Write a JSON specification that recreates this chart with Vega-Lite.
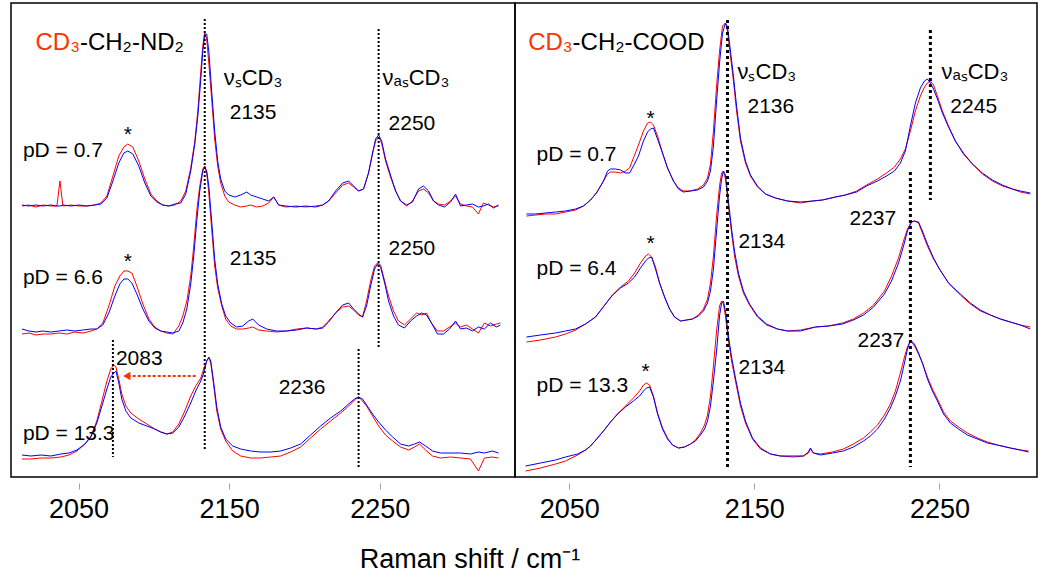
{
"$schema":"https://vega.github.io/schema/vega-lite/v6.json",
"padding":{"left":10,"top":2,"right":0,"bottom":0},
"autosize":{"type":"pad"},
"background":"white",
"spacing":0,
"bounds":"flush",
"config":{"font":"Liberation Sans","view":{"stroke":"black","strokeWidth":1.5}},
"title":{"text":"Raman shift / cm⁻¹","orient":"bottom","anchor":"middle","fontSize":27,"font":"Liberation Sans","fontWeight":"normal","color":"black","dx":-54,"offset":24},
"datasets":{
"spec":[
{"panel":"L","pd":"0.7","x":2012.4,"red":271,"blue":272},
{"panel":"L","pd":"0.7","x":2017.0,"red":272,"blue":271},
{"panel":"L","pd":"0.7","x":2021.7,"red":270,"blue":272},
{"panel":"L","pd":"0.7","x":2026.3,"red":272,"blue":271},
{"panel":"L","pd":"0.7","x":2031.6,"red":271,"blue":272},
{"panel":"L","pd":"0.7","x":2035.6,"red":271,"blue":271},
{"panel":"L","pd":"0.7","x":2037.6,"red":296,"blue":271},
{"panel":"L","pd":"0.7","x":2039.6,"red":271,"blue":272},
{"panel":"L","pd":"0.7","x":2044.9,"red":272,"blue":271},
{"panel":"L","pd":"0.7","x":2050.2,"red":271,"blue":272},
{"panel":"L","pd":"0.7","x":2055.5,"red":271,"blue":271},
{"panel":"L","pd":"0.7","x":2060.8,"red":272,"blue":272},
{"panel":"L","pd":"0.7","x":2064.8,"red":274,"blue":273},
{"panel":"L","pd":"0.7","x":2068.8,"red":281,"blue":279},
{"panel":"L","pd":"0.7","x":2072.8,"red":301,"blue":296},
{"panel":"L","pd":"0.7","x":2076.7,"red":321,"blue":314},
{"panel":"L","pd":"0.7","x":2080.1,"red":330,"blue":324},
{"panel":"L","pd":"0.7","x":2082.7,"red":333,"blue":326},
{"panel":"L","pd":"0.7","x":2086.0,"red":330,"blue":323},
{"panel":"L","pd":"0.7","x":2090.0,"red":316,"blue":311},
{"panel":"L","pd":"0.7","x":2094.0,"red":298,"blue":294},
{"panel":"L","pd":"0.7","x":2098.0,"red":283,"blue":281},
{"panel":"L","pd":"0.7","x":2102.0,"red":276,"blue":275},
{"panel":"L","pd":"0.7","x":2105.9,"red":272,"blue":272},
{"panel":"L","pd":"0.7","x":2109.9,"red":271,"blue":271},
{"panel":"L","pd":"0.7","x":2113.9,"red":272,"blue":273},
{"panel":"L","pd":"0.7","x":2117.9,"red":276,"blue":274},
{"panel":"L","pd":"0.7","x":2121.2,"red":286,"blue":283},
{"panel":"L","pd":"0.7","x":2124.5,"red":309,"blue":306},
{"panel":"L","pd":"0.7","x":2127.2,"red":336,"blue":333},
{"panel":"L","pd":"0.7","x":2129.2,"red":366,"blue":361},
{"panel":"L","pd":"0.7","x":2131.2,"red":406,"blue":398},
{"panel":"L","pd":"0.7","x":2132.5,"red":431,"blue":426},
{"panel":"L","pd":"0.7","x":2133.8,"red":444,"blue":442},
{"panel":"L","pd":"0.7","x":2135.1,"red":438,"blue":443},
{"panel":"L","pd":"0.7","x":2136.5,"red":414,"blue":426},
{"panel":"L","pd":"0.7","x":2138.5,"red":376,"blue":384},
{"panel":"L","pd":"0.7","x":2140.4,"red":338,"blue":346},
{"panel":"L","pd":"0.7","x":2142.4,"red":311,"blue":316},
{"panel":"L","pd":"0.7","x":2144.4,"red":294,"blue":298},
{"panel":"L","pd":"0.7","x":2147.1,"red":281,"blue":286},
{"panel":"L","pd":"0.7","x":2149.7,"red":275,"blue":282},
{"panel":"L","pd":"0.7","x":2153.7,"red":272,"blue":280},
{"panel":"L","pd":"0.7","x":2157.7,"red":270,"blue":282},
{"panel":"L","pd":"0.7","x":2161.7,"red":271,"blue":285},
{"panel":"L","pd":"0.7","x":2164.3,"red":272,"blue":282},
{"panel":"L","pd":"0.7","x":2168.3,"red":270,"blue":280},
{"panel":"L","pd":"0.7","x":2172.3,"red":271,"blue":278},
{"panel":"L","pd":"0.7","x":2176.3,"red":274,"blue":276},
{"panel":"L","pd":"0.7","x":2179.6,"red":280,"blue":280},
{"panel":"L","pd":"0.7","x":2182.9,"red":272,"blue":272},
{"panel":"L","pd":"0.7","x":2187.6,"red":270,"blue":271},
{"panel":"L","pd":"0.7","x":2194.2,"red":271,"blue":270},
{"panel":"L","pd":"0.7","x":2200.8,"red":270,"blue":271},
{"panel":"L","pd":"0.7","x":2207.5,"red":271,"blue":270},
{"panel":"L","pd":"0.7","x":2212.1,"red":272,"blue":272},
{"panel":"L","pd":"0.7","x":2216.1,"red":276,"blue":276},
{"panel":"L","pd":"0.7","x":2220.7,"red":284,"blue":286},
{"panel":"L","pd":"0.7","x":2225.4,"red":292,"blue":294},
{"panel":"L","pd":"0.7","x":2229.4,"red":294,"blue":296},
{"panel":"L","pd":"0.7","x":2232.7,"red":290,"blue":291},
{"panel":"L","pd":"0.7","x":2236.0,"red":286,"blue":286},
{"panel":"L","pd":"0.7","x":2239.3,"red":288,"blue":288},
{"panel":"L","pd":"0.7","x":2242.6,"red":304,"blue":304},
{"panel":"L","pd":"0.7","x":2245.3,"red":324,"blue":324},
{"panel":"L","pd":"0.7","x":2247.3,"red":336,"blue":338},
{"panel":"L","pd":"0.7","x":2249.3,"red":340,"blue":342},
{"panel":"L","pd":"0.7","x":2251.3,"red":334,"blue":336},
{"panel":"L","pd":"0.7","x":2253.9,"red":316,"blue":318},
{"panel":"L","pd":"0.7","x":2257.2,"red":300,"blue":302},
{"panel":"L","pd":"0.7","x":2260.6,"red":286,"blue":286},
{"panel":"L","pd":"0.7","x":2263.9,"red":276,"blue":276},
{"panel":"L","pd":"0.7","x":2267.9,"red":271,"blue":272},
{"panel":"L","pd":"0.7","x":2271.8,"red":276,"blue":275},
{"panel":"L","pd":"0.7","x":2275.8,"red":286,"blue":288},
{"panel":"L","pd":"0.7","x":2279.1,"red":288,"blue":291},
{"panel":"L","pd":"0.7","x":2282.5,"red":284,"blue":286},
{"panel":"L","pd":"0.7","x":2285.8,"red":276,"blue":276},
{"panel":"L","pd":"0.7","x":2289.1,"red":273,"blue":272},
{"panel":"L","pd":"0.7","x":2293.1,"red":272,"blue":270},
{"panel":"L","pd":"0.7","x":2297.1,"red":276,"blue":275},
{"panel":"L","pd":"0.7","x":2300.4,"red":281,"blue":283},
{"panel":"L","pd":"0.7","x":2303.7,"red":273,"blue":271},
{"panel":"L","pd":"0.7","x":2307.7,"red":271,"blue":272},
{"panel":"L","pd":"0.7","x":2311.6,"red":270,"blue":273},
{"panel":"L","pd":"0.7","x":2315.6,"red":263,"blue":270},
{"panel":"L","pd":"0.7","x":2318.9,"red":274,"blue":271},
{"panel":"L","pd":"0.7","x":2322.3,"red":272,"blue":273},
{"panel":"L","pd":"0.7","x":2325.6,"red":270,"blue":269},
{"panel":"L","pd":"0.7","x":2328.9,"red":271,"blue":272},
{"panel":"L","pd":"6.6","x":2012.4,"red":143,"blue":148},
{"panel":"L","pd":"6.6","x":2017.0,"red":144,"blue":146},
{"panel":"L","pd":"6.6","x":2021.7,"red":142,"blue":145},
{"panel":"L","pd":"6.6","x":2026.3,"red":143,"blue":146},
{"panel":"L","pd":"6.6","x":2031.6,"red":143,"blue":145},
{"panel":"L","pd":"6.6","x":2036.9,"red":144,"blue":146},
{"panel":"L","pd":"6.6","x":2042.2,"red":143,"blue":147},
{"panel":"L","pd":"6.6","x":2047.5,"red":145,"blue":146},
{"panel":"L","pd":"6.6","x":2052.9,"red":144,"blue":147},
{"panel":"L","pd":"6.6","x":2058.2,"red":146,"blue":148},
{"panel":"L","pd":"6.6","x":2062.1,"red":148,"blue":148},
{"panel":"L","pd":"6.6","x":2066.1,"red":154,"blue":152},
{"panel":"L","pd":"6.6","x":2070.1,"red":171,"blue":164},
{"panel":"L","pd":"6.6","x":2074.1,"red":191,"blue":181},
{"panel":"L","pd":"6.6","x":2077.4,"red":201,"blue":193},
{"panel":"L","pd":"6.6","x":2080.1,"red":206,"blue":198},
{"panel":"L","pd":"6.6","x":2082.7,"red":206,"blue":198},
{"panel":"L","pd":"6.6","x":2085.4,"red":204,"blue":194},
{"panel":"L","pd":"6.6","x":2088.7,"red":191,"blue":183},
{"panel":"L","pd":"6.6","x":2092.7,"red":173,"blue":168},
{"panel":"L","pd":"6.6","x":2096.7,"red":158,"blue":156},
{"panel":"L","pd":"6.6","x":2100.6,"red":150,"blue":149},
{"panel":"L","pd":"6.6","x":2104.6,"red":146,"blue":146},
{"panel":"L","pd":"6.6","x":2108.6,"red":144,"blue":145},
{"panel":"L","pd":"6.6","x":2112.6,"red":143,"blue":144},
{"panel":"L","pd":"6.6","x":2116.6,"red":151,"blue":146},
{"panel":"L","pd":"6.6","x":2119.2,"red":161,"blue":154},
{"panel":"L","pd":"6.6","x":2121.9,"red":176,"blue":168},
{"panel":"L","pd":"6.6","x":2124.5,"red":201,"blue":193},
{"panel":"L","pd":"6.6","x":2126.5,"red":231,"blue":221},
{"panel":"L","pd":"6.6","x":2128.5,"red":266,"blue":256},
{"panel":"L","pd":"6.6","x":2130.5,"red":291,"blue":286},
{"panel":"L","pd":"6.6","x":2132.5,"red":308,"blue":306},
{"panel":"L","pd":"6.6","x":2133.8,"red":311,"blue":310},
{"panel":"L","pd":"6.6","x":2135.1,"red":304,"blue":306},
{"panel":"L","pd":"6.6","x":2136.5,"red":284,"blue":291},
{"panel":"L","pd":"6.6","x":2138.5,"red":246,"blue":254},
{"panel":"L","pd":"6.6","x":2140.4,"red":211,"blue":218},
{"panel":"L","pd":"6.6","x":2142.4,"red":189,"blue":193},
{"panel":"L","pd":"6.6","x":2145.1,"red":171,"blue":173},
{"panel":"L","pd":"6.6","x":2147.7,"red":158,"blue":161},
{"panel":"L","pd":"6.6","x":2151.1,"red":151,"blue":154},
{"panel":"L","pd":"6.6","x":2155.0,"red":148,"blue":150},
{"panel":"L","pd":"6.6","x":2159.0,"red":148,"blue":151},
{"panel":"L","pd":"6.6","x":2163.0,"red":149,"blue":156},
{"panel":"L","pd":"6.6","x":2165.7,"red":150,"blue":158},
{"panel":"L","pd":"6.6","x":2169.6,"red":147,"blue":152},
{"panel":"L","pd":"6.6","x":2175.0,"red":146,"blue":148},
{"panel":"L","pd":"6.6","x":2181.6,"red":145,"blue":146},
{"panel":"L","pd":"6.6","x":2188.2,"red":146,"blue":146},
{"panel":"L","pd":"6.6","x":2194.9,"red":148,"blue":147},
{"panel":"L","pd":"6.6","x":2201.5,"red":149,"blue":149},
{"panel":"L","pd":"6.6","x":2208.1,"red":148,"blue":148},
{"panel":"L","pd":"6.6","x":2212.1,"red":150,"blue":149},
{"panel":"L","pd":"6.6","x":2216.1,"red":156,"blue":155},
{"panel":"L","pd":"6.6","x":2220.7,"red":164,"blue":164},
{"panel":"L","pd":"6.6","x":2225.4,"red":170,"blue":172},
{"panel":"L","pd":"6.6","x":2229.4,"red":171,"blue":174},
{"panel":"L","pd":"6.6","x":2232.7,"red":167,"blue":168},
{"panel":"L","pd":"6.6","x":2236.0,"red":162,"blue":163},
{"panel":"L","pd":"6.6","x":2238.6,"red":160,"blue":160},
{"panel":"L","pd":"6.6","x":2241.3,"red":176,"blue":171},
{"panel":"L","pd":"6.6","x":2244.0,"red":196,"blue":191},
{"panel":"L","pd":"6.6","x":2246.6,"red":211,"blue":208},
{"panel":"L","pd":"6.6","x":2248.6,"red":214,"blue":213},
{"panel":"L","pd":"6.6","x":2250.6,"red":212,"blue":210},
{"panel":"L","pd":"6.6","x":2253.3,"red":196,"blue":194},
{"panel":"L","pd":"6.6","x":2255.9,"red":181,"blue":176},
{"panel":"L","pd":"6.6","x":2259.2,"red":166,"blue":161},
{"panel":"L","pd":"6.6","x":2262.5,"red":156,"blue":152},
{"panel":"L","pd":"6.6","x":2266.5,"red":152,"blue":149},
{"panel":"L","pd":"6.6","x":2270.5,"red":158,"blue":156},
{"panel":"L","pd":"6.6","x":2274.5,"red":164,"blue":161},
{"panel":"L","pd":"6.6","x":2277.8,"red":162,"blue":164},
{"panel":"L","pd":"6.6","x":2281.1,"red":164,"blue":162},
{"panel":"L","pd":"6.6","x":2284.4,"red":154,"blue":154},
{"panel":"L","pd":"6.6","x":2288.4,"red":146,"blue":143},
{"panel":"L","pd":"6.6","x":2292.4,"red":146,"blue":143},
{"panel":"L","pd":"6.6","x":2296.4,"red":150,"blue":148},
{"panel":"L","pd":"6.6","x":2300.4,"red":154,"blue":156},
{"panel":"L","pd":"6.6","x":2303.7,"red":150,"blue":148},
{"panel":"L","pd":"6.6","x":2307.7,"red":152,"blue":149},
{"panel":"L","pd":"6.6","x":2311.6,"red":148,"blue":146},
{"panel":"L","pd":"6.6","x":2315.6,"red":144,"blue":150},
{"panel":"L","pd":"6.6","x":2319.6,"red":154,"blue":148},
{"panel":"L","pd":"6.6","x":2323.6,"red":151,"blue":154},
{"panel":"L","pd":"6.6","x":2327.6,"red":153,"blue":150},
{"panel":"L","pd":"6.6","x":2330.2,"red":154,"blue":152},
{"panel":"L","pd":"13.3","x":2012.4,"red":18,"blue":22},
{"panel":"L","pd":"13.3","x":2018.3,"red":18,"blue":21},
{"panel":"L","pd":"13.3","x":2025.0,"red":19,"blue":22},
{"panel":"L","pd":"13.3","x":2031.6,"red":19,"blue":21},
{"panel":"L","pd":"13.3","x":2038.3,"red":20,"blue":23},
{"panel":"L","pd":"13.3","x":2043.6,"red":22,"blue":24},
{"panel":"L","pd":"13.3","x":2048.9,"red":26,"blue":27},
{"panel":"L","pd":"13.3","x":2054.2,"red":33,"blue":33},
{"panel":"L","pd":"13.3","x":2058.2,"red":41,"blue":40},
{"panel":"L","pd":"13.3","x":2062.1,"red":56,"blue":54},
{"panel":"L","pd":"13.3","x":2065.5,"red":76,"blue":71},
{"panel":"L","pd":"13.3","x":2068.8,"red":96,"blue":88},
{"panel":"L","pd":"13.3","x":2071.4,"red":108,"blue":100},
{"panel":"L","pd":"13.3","x":2073.4,"red":112,"blue":104},
{"panel":"L","pd":"13.3","x":2074.8,"red":110,"blue":106},
{"panel":"L","pd":"13.3","x":2076.7,"red":98,"blue":94},
{"panel":"L","pd":"13.3","x":2078.7,"red":83,"blue":78},
{"panel":"L","pd":"13.3","x":2081.4,"red":71,"blue":66},
{"panel":"L","pd":"13.3","x":2084.7,"red":64,"blue":59},
{"panel":"L","pd":"13.3","x":2090.0,"red":58,"blue":54},
{"panel":"L","pd":"13.3","x":2095.3,"red":53,"blue":51},
{"panel":"L","pd":"13.3","x":2100.6,"red":48,"blue":48},
{"panel":"L","pd":"13.3","x":2104.6,"red":45,"blue":45},
{"panel":"L","pd":"13.3","x":2108.6,"red":43,"blue":43},
{"panel":"L","pd":"13.3","x":2112.6,"red":45,"blue":44},
{"panel":"L","pd":"13.3","x":2116.6,"red":53,"blue":50},
{"panel":"L","pd":"13.3","x":2120.5,"red":66,"blue":61},
{"panel":"L","pd":"13.3","x":2124.5,"red":81,"blue":74},
{"panel":"L","pd":"13.3","x":2127.8,"red":91,"blue":86},
{"panel":"L","pd":"13.3","x":2131.2,"red":99,"blue":96},
{"panel":"L","pd":"13.3","x":2133.1,"red":108,"blue":104},
{"panel":"L","pd":"13.3","x":2135.1,"red":116,"blue":116},
{"panel":"L","pd":"13.3","x":2136.5,"red":119,"blue":120},
{"panel":"L","pd":"13.3","x":2137.8,"red":114,"blue":116},
{"panel":"L","pd":"13.3","x":2139.8,"red":91,"blue":94},
{"panel":"L","pd":"13.3","x":2141.8,"red":66,"blue":70},
{"panel":"L","pd":"13.3","x":2144.4,"red":48,"blue":50},
{"panel":"L","pd":"13.3","x":2147.7,"red":36,"blue":38},
{"panel":"L","pd":"13.3","x":2152.4,"red":26,"blue":31},
{"panel":"L","pd":"13.3","x":2157.7,"red":21,"blue":28},
{"panel":"L","pd":"13.3","x":2164.3,"red":19,"blue":26},
{"panel":"L","pd":"13.3","x":2171.0,"red":19,"blue":25},
{"panel":"L","pd":"13.3","x":2177.6,"red":20,"blue":25},
{"panel":"L","pd":"13.3","x":2184.2,"red":21,"blue":26},
{"panel":"L","pd":"13.3","x":2190.9,"red":25,"blue":29},
{"panel":"L","pd":"13.3","x":2197.5,"red":30,"blue":33},
{"panel":"L","pd":"13.3","x":2204.1,"red":39,"blue":42},
{"panel":"L","pd":"13.3","x":2210.8,"red":48,"blue":51},
{"panel":"L","pd":"13.3","x":2217.4,"red":56,"blue":59},
{"panel":"L","pd":"13.3","x":2224.1,"red":64,"blue":66},
{"panel":"L","pd":"13.3","x":2229.4,"red":71,"blue":73},
{"panel":"L","pd":"13.3","x":2233.3,"red":77,"blue":78},
{"panel":"L","pd":"13.3","x":2236.0,"red":80,"blue":80},
{"panel":"L","pd":"13.3","x":2238.6,"red":76,"blue":78},
{"panel":"L","pd":"13.3","x":2241.3,"red":71,"blue":72},
{"panel":"L","pd":"13.3","x":2245.3,"red":61,"blue":63},
{"panel":"L","pd":"13.3","x":2249.3,"red":51,"blue":55},
{"panel":"L","pd":"13.3","x":2253.9,"red":42,"blue":47},
{"panel":"L","pd":"13.3","x":2258.6,"red":36,"blue":40},
{"panel":"L","pd":"13.3","x":2263.9,"red":30,"blue":33},
{"panel":"L","pd":"13.3","x":2269.2,"red":27,"blue":31},
{"panel":"L","pd":"13.3","x":2273.2,"red":30,"blue":33},
{"panel":"L","pd":"13.3","x":2276.5,"red":33,"blue":35},
{"panel":"L","pd":"13.3","x":2280.5,"red":27,"blue":31},
{"panel":"L","pd":"13.3","x":2285.1,"red":21,"blue":26},
{"panel":"L","pd":"13.3","x":2290.4,"red":19,"blue":24},
{"panel":"L","pd":"13.3","x":2297.1,"red":20,"blue":24},
{"panel":"L","pd":"13.3","x":2303.7,"red":19,"blue":24},
{"panel":"L","pd":"13.3","x":2310.3,"red":18,"blue":23},
{"panel":"L","pd":"13.3","x":2315.6,"red":6,"blue":25},
{"panel":"L","pd":"13.3","x":2319.6,"red":19,"blue":24},
{"panel":"L","pd":"13.3","x":2324.9,"red":20,"blue":26},
{"panel":"L","pd":"13.3","x":2328.9,"red":19,"blue":24},
{"panel":"R","pd":"0.7","x":2026.9,"red":261,"blue":263},
{"panel":"R","pd":"0.7","x":2031.8,"red":262,"blue":263},
{"panel":"R","pd":"0.7","x":2037.2,"red":263,"blue":264},
{"panel":"R","pd":"0.7","x":2042.6,"red":263,"blue":265},
{"panel":"R","pd":"0.7","x":2048.0,"red":265,"blue":266},
{"panel":"R","pd":"0.7","x":2053.4,"red":267,"blue":268},
{"panel":"R","pd":"0.7","x":2057.7,"red":271,"blue":271},
{"panel":"R","pd":"0.7","x":2061.5,"red":277,"blue":277},
{"panel":"R","pd":"0.7","x":2064.7,"red":284,"blue":284},
{"panel":"R","pd":"0.7","x":2068.5,"red":296,"blue":296},
{"panel":"R","pd":"0.7","x":2070.7,"red":303,"blue":306},
{"panel":"R","pd":"0.7","x":2072.3,"red":305,"blue":308},
{"panel":"R","pd":"0.7","x":2075.0,"red":305,"blue":308},
{"panel":"R","pd":"0.7","x":2077.7,"red":304,"blue":307},
{"panel":"R","pd":"0.7","x":2080.4,"red":306,"blue":304},
{"panel":"R","pd":"0.7","x":2082.6,"red":309,"blue":304},
{"panel":"R","pd":"0.7","x":2084.7,"red":319,"blue":311},
{"panel":"R","pd":"0.7","x":2087.4,"red":332,"blue":321},
{"panel":"R","pd":"0.7","x":2090.1,"red":346,"blue":336},
{"panel":"R","pd":"0.7","x":2092.3,"red":354,"blue":345},
{"panel":"R","pd":"0.7","x":2093.9,"red":355,"blue":348},
{"panel":"R","pd":"0.7","x":2095.5,"red":352,"blue":349},
{"panel":"R","pd":"0.7","x":2097.7,"red":341,"blue":338},
{"panel":"R","pd":"0.7","x":2100.4,"red":324,"blue":324},
{"panel":"R","pd":"0.7","x":2103.1,"red":309,"blue":309},
{"panel":"R","pd":"0.7","x":2106.3,"red":296,"blue":296},
{"panel":"R","pd":"0.7","x":2109.0,"red":289,"blue":288},
{"panel":"R","pd":"0.7","x":2111.7,"red":286,"blue":285},
{"panel":"R","pd":"0.7","x":2115.5,"red":286,"blue":286},
{"panel":"R","pd":"0.7","x":2119.3,"red":288,"blue":287},
{"panel":"R","pd":"0.7","x":2122.5,"red":292,"blue":290},
{"panel":"R","pd":"0.7","x":2124.7,"red":299,"blue":296},
{"panel":"R","pd":"0.7","x":2126.3,"red":313,"blue":306},
{"panel":"R","pd":"0.7","x":2127.9,"red":346,"blue":331},
{"panel":"R","pd":"0.7","x":2129.6,"red":391,"blue":376},
{"panel":"R","pd":"0.7","x":2131.2,"red":426,"blue":414},
{"panel":"R","pd":"0.7","x":2132.8,"red":451,"blue":444},
{"panel":"R","pd":"0.7","x":2134.4,"red":454,"blue":454},
{"panel":"R","pd":"0.7","x":2135.5,"red":446,"blue":450},
{"panel":"R","pd":"0.7","x":2137.1,"red":421,"blue":426},
{"panel":"R","pd":"0.7","x":2138.7,"red":396,"blue":401},
{"panel":"R","pd":"0.7","x":2140.4,"red":366,"blue":371},
{"panel":"R","pd":"0.7","x":2142.5,"red":336,"blue":339},
{"panel":"R","pd":"0.7","x":2145.2,"red":314,"blue":316},
{"panel":"R","pd":"0.7","x":2147.9,"red":301,"blue":302},
{"panel":"R","pd":"0.7","x":2151.7,"red":290,"blue":291},
{"panel":"R","pd":"0.7","x":2156.0,"red":283,"blue":283},
{"panel":"R","pd":"0.7","x":2161.4,"red":279,"blue":279},
{"panel":"R","pd":"0.7","x":2167.9,"red":276,"blue":276},
{"panel":"R","pd":"0.7","x":2174.9,"red":274,"blue":275},
{"panel":"R","pd":"0.7","x":2181.4,"red":276,"blue":276},
{"panel":"R","pd":"0.7","x":2186.8,"red":277,"blue":277},
{"panel":"R","pd":"0.7","x":2193.8,"red":280,"blue":280},
{"panel":"R","pd":"0.7","x":2199.2,"red":282,"blue":282},
{"panel":"R","pd":"0.7","x":2205.2,"red":286,"blue":285},
{"panel":"R","pd":"0.7","x":2210.6,"red":292,"blue":291},
{"panel":"R","pd":"0.7","x":2216.5,"red":298,"blue":296},
{"panel":"R","pd":"0.7","x":2221.4,"red":304,"blue":301},
{"panel":"R","pd":"0.7","x":2225.7,"red":310,"blue":306},
{"panel":"R","pd":"0.7","x":2228.9,"red":318,"blue":314},
{"panel":"R","pd":"0.7","x":2231.6,"red":328,"blue":326},
{"panel":"R","pd":"0.7","x":2234.3,"red":346,"blue":351},
{"panel":"R","pd":"0.7","x":2237.0,"red":366,"blue":374},
{"panel":"R","pd":"0.7","x":2239.7,"red":381,"blue":389},
{"panel":"R","pd":"0.7","x":2241.9,"red":390,"blue":396},
{"panel":"R","pd":"0.7","x":2243.5,"red":394,"blue":398},
{"panel":"R","pd":"0.7","x":2245.1,"red":396,"blue":394},
{"panel":"R","pd":"0.7","x":2246.8,"red":392,"blue":388},
{"panel":"R","pd":"0.7","x":2248.9,"red":381,"blue":378},
{"panel":"R","pd":"0.7","x":2251.6,"red":366,"blue":364},
{"panel":"R","pd":"0.7","x":2254.9,"red":351,"blue":350},
{"panel":"R","pd":"0.7","x":2258.6,"red":336,"blue":336},
{"panel":"R","pd":"0.7","x":2263.0,"red":324,"blue":323},
{"panel":"R","pd":"0.7","x":2267.8,"red":313,"blue":313},
{"panel":"R","pd":"0.7","x":2273.2,"red":303,"blue":304},
{"panel":"R","pd":"0.7","x":2278.6,"red":296,"blue":297},
{"panel":"R","pd":"0.7","x":2284.0,"red":291,"blue":292},
{"panel":"R","pd":"0.7","x":2289.4,"red":288,"blue":288},
{"panel":"R","pd":"0.7","x":2293.7,"red":285,"blue":286},
{"panel":"R","pd":"0.7","x":2299.1,"red":283,"blue":284},
{"panel":"R","pd":"6.4","x":2026.9,"red":135,"blue":140},
{"panel":"R","pd":"6.4","x":2034.5,"red":137,"blue":142},
{"panel":"R","pd":"6.4","x":2042.6,"red":140,"blue":144},
{"panel":"R","pd":"6.4","x":2048.0,"red":143,"blue":146},
{"panel":"R","pd":"6.4","x":2053.4,"red":147,"blue":148},
{"panel":"R","pd":"6.4","x":2058.8,"red":153,"blue":153},
{"panel":"R","pd":"6.4","x":2064.2,"red":160,"blue":160},
{"panel":"R","pd":"6.4","x":2069.6,"red":173,"blue":173},
{"panel":"R","pd":"6.4","x":2073.4,"red":182,"blue":182},
{"panel":"R","pd":"6.4","x":2077.7,"red":190,"blue":189},
{"panel":"R","pd":"6.4","x":2082.0,"red":196,"blue":194},
{"panel":"R","pd":"6.4","x":2085.3,"red":204,"blue":200},
{"panel":"R","pd":"6.4","x":2088.5,"red":214,"blue":209},
{"panel":"R","pd":"6.4","x":2091.2,"red":221,"blue":216},
{"panel":"R","pd":"6.4","x":2092.8,"red":223,"blue":219},
{"panel":"R","pd":"6.4","x":2094.5,"red":220,"blue":220},
{"panel":"R","pd":"6.4","x":2096.6,"red":210,"blue":208},
{"panel":"R","pd":"6.4","x":2098.8,"red":194,"blue":194},
{"panel":"R","pd":"6.4","x":2101.5,"red":180,"blue":180},
{"panel":"R","pd":"6.4","x":2104.2,"red":168,"blue":168},
{"panel":"R","pd":"6.4","x":2106.9,"red":160,"blue":160},
{"panel":"R","pd":"6.4","x":2110.1,"red":156,"blue":156},
{"panel":"R","pd":"6.4","x":2113.4,"red":157,"blue":157},
{"panel":"R","pd":"6.4","x":2116.6,"red":158,"blue":158},
{"panel":"R","pd":"6.4","x":2119.8,"red":162,"blue":161},
{"panel":"R","pd":"6.4","x":2122.5,"red":168,"blue":166},
{"panel":"R","pd":"6.4","x":2124.7,"red":178,"blue":174},
{"panel":"R","pd":"6.4","x":2126.3,"red":194,"blue":186},
{"panel":"R","pd":"6.4","x":2127.9,"red":221,"blue":208},
{"panel":"R","pd":"6.4","x":2129.6,"red":261,"blue":246},
{"panel":"R","pd":"6.4","x":2131.2,"red":291,"blue":281},
{"panel":"R","pd":"6.4","x":2132.3,"red":304,"blue":298},
{"panel":"R","pd":"6.4","x":2133.3,"red":306,"blue":306},
{"panel":"R","pd":"6.4","x":2134.4,"red":298,"blue":302},
{"panel":"R","pd":"6.4","x":2136.0,"red":271,"blue":276},
{"panel":"R","pd":"6.4","x":2137.7,"red":244,"blue":248},
{"panel":"R","pd":"6.4","x":2139.3,"red":221,"blue":226},
{"panel":"R","pd":"6.4","x":2141.4,"red":201,"blue":204},
{"panel":"R","pd":"6.4","x":2144.1,"red":184,"blue":186},
{"panel":"R","pd":"6.4","x":2147.4,"red":172,"blue":173},
{"panel":"R","pd":"6.4","x":2151.7,"red":160,"blue":161},
{"panel":"R","pd":"6.4","x":2156.6,"red":152,"blue":153},
{"panel":"R","pd":"6.4","x":2162.5,"red":148,"blue":148},
{"panel":"R","pd":"6.4","x":2167.9,"red":146,"blue":146},
{"panel":"R","pd":"6.4","x":2174.9,"red":147,"blue":146},
{"panel":"R","pd":"6.4","x":2183.0,"red":150,"blue":150},
{"panel":"R","pd":"6.4","x":2190.0,"red":151,"blue":151},
{"panel":"R","pd":"6.4","x":2197.6,"red":154,"blue":153},
{"panel":"R","pd":"6.4","x":2203.5,"red":158,"blue":157},
{"panel":"R","pd":"6.4","x":2209.0,"red":164,"blue":162},
{"panel":"R","pd":"6.4","x":2214.4,"red":172,"blue":170},
{"panel":"R","pd":"6.4","x":2220.3,"red":186,"blue":183},
{"panel":"R","pd":"6.4","x":2224.1,"red":201,"blue":196},
{"panel":"R","pd":"6.4","x":2227.9,"red":219,"blue":214},
{"panel":"R","pd":"6.4","x":2230.6,"red":236,"blue":231},
{"panel":"R","pd":"6.4","x":2232.7,"red":248,"blue":246},
{"panel":"R","pd":"6.4","x":2234.9,"red":255,"blue":255},
{"panel":"R","pd":"6.4","x":2236.5,"red":256,"blue":256},
{"panel":"R","pd":"6.4","x":2238.7,"red":254,"blue":255},
{"panel":"R","pd":"6.4","x":2240.8,"red":244,"blue":246},
{"panel":"R","pd":"6.4","x":2243.5,"red":231,"blue":233},
{"panel":"R","pd":"6.4","x":2246.8,"red":218,"blue":219},
{"panel":"R","pd":"6.4","x":2250.0,"red":208,"blue":208},
{"panel":"R","pd":"6.4","x":2254.9,"red":194,"blue":194},
{"panel":"R","pd":"6.4","x":2261.3,"red":182,"blue":183},
{"panel":"R","pd":"6.4","x":2266.7,"red":173,"blue":174},
{"panel":"R","pd":"6.4","x":2272.1,"red":166,"blue":167},
{"panel":"R","pd":"6.4","x":2277.5,"red":162,"blue":162},
{"panel":"R","pd":"6.4","x":2282.9,"red":158,"blue":158},
{"panel":"R","pd":"6.4","x":2288.3,"red":155,"blue":155},
{"panel":"R","pd":"6.4","x":2293.7,"red":152,"blue":152},
{"panel":"R","pd":"6.4","x":2299.1,"red":150,"blue":148},
{"panel":"R","pd":"13.3","x":2026.4,"red":6,"blue":11},
{"panel":"R","pd":"13.3","x":2034.5,"red":9,"blue":14},
{"panel":"R","pd":"13.3","x":2042.6,"red":13,"blue":17},
{"panel":"R","pd":"13.3","x":2048.0,"red":16,"blue":20},
{"panel":"R","pd":"13.3","x":2054.5,"red":22,"blue":23},
{"panel":"R","pd":"13.3","x":2058.8,"red":27,"blue":27},
{"panel":"R","pd":"13.3","x":2061.5,"red":31,"blue":31},
{"panel":"R","pd":"13.3","x":2065.3,"red":39,"blue":39},
{"panel":"R","pd":"13.3","x":2068.5,"red":46,"blue":46},
{"panel":"R","pd":"13.3","x":2072.3,"red":55,"blue":55},
{"panel":"R","pd":"13.3","x":2076.1,"red":63,"blue":63},
{"panel":"R","pd":"13.3","x":2080.4,"red":71,"blue":70},
{"panel":"R","pd":"13.3","x":2084.7,"red":79,"blue":76},
{"panel":"R","pd":"13.3","x":2088.0,"red":86,"blue":81},
{"panel":"R","pd":"13.3","x":2090.1,"red":92,"blue":86},
{"panel":"R","pd":"13.3","x":2091.7,"red":94,"blue":89},
{"panel":"R","pd":"13.3","x":2093.4,"red":92,"blue":90},
{"panel":"R","pd":"13.3","x":2095.5,"red":81,"blue":80},
{"panel":"R","pd":"13.3","x":2097.7,"red":64,"blue":63},
{"panel":"R","pd":"13.3","x":2100.4,"red":49,"blue":48},
{"panel":"R","pd":"13.3","x":2103.1,"red":39,"blue":38},
{"panel":"R","pd":"13.3","x":2105.8,"red":32,"blue":32},
{"panel":"R","pd":"13.3","x":2109.0,"red":29,"blue":29},
{"panel":"R","pd":"13.3","x":2112.3,"red":30,"blue":30},
{"panel":"R","pd":"13.3","x":2115.5,"red":33,"blue":33},
{"panel":"R","pd":"13.3","x":2118.2,"red":37,"blue":36},
{"panel":"R","pd":"13.3","x":2120.9,"red":44,"blue":42},
{"panel":"R","pd":"13.3","x":2123.1,"red":52,"blue":48},
{"panel":"R","pd":"13.3","x":2124.7,"red":62,"blue":56},
{"panel":"R","pd":"13.3","x":2126.3,"red":81,"blue":71},
{"panel":"R","pd":"13.3","x":2127.9,"red":111,"blue":96},
{"panel":"R","pd":"13.3","x":2129.6,"red":146,"blue":126},
{"panel":"R","pd":"13.3","x":2131.2,"red":171,"blue":161},
{"panel":"R","pd":"13.3","x":2132.3,"red":176,"blue":174},
{"panel":"R","pd":"13.3","x":2133.3,"red":173,"blue":176},
{"panel":"R","pd":"13.3","x":2134.4,"red":161,"blue":166},
{"panel":"R","pd":"13.3","x":2136.0,"red":136,"blue":141},
{"panel":"R","pd":"13.3","x":2137.7,"red":116,"blue":120},
{"panel":"R","pd":"13.3","x":2139.8,"red":96,"blue":99},
{"panel":"R","pd":"13.3","x":2142.5,"red":71,"blue":74},
{"panel":"R","pd":"13.3","x":2145.2,"red":54,"blue":56},
{"panel":"R","pd":"13.3","x":2149.0,"red":38,"blue":39},
{"panel":"R","pd":"13.3","x":2153.3,"red":28,"blue":29},
{"panel":"R","pd":"13.3","x":2158.7,"red":23,"blue":23},
{"panel":"R","pd":"13.3","x":2164.1,"red":21,"blue":21},
{"panel":"R","pd":"13.3","x":2171.1,"red":20,"blue":21},
{"panel":"R","pd":"13.3","x":2176.5,"red":21,"blue":21},
{"panel":"R","pd":"13.3","x":2179.2,"red":24,"blue":25},
{"panel":"R","pd":"13.3","x":2180.3,"red":28,"blue":29},
{"panel":"R","pd":"13.3","x":2181.9,"red":24,"blue":24},
{"panel":"R","pd":"13.3","x":2185.7,"red":23,"blue":22},
{"panel":"R","pd":"13.3","x":2192.2,"red":25,"blue":24},
{"panel":"R","pd":"13.3","x":2198.1,"red":28,"blue":26},
{"panel":"R","pd":"13.3","x":2203.5,"red":33,"blue":30},
{"panel":"R","pd":"13.3","x":2209.0,"red":39,"blue":36},
{"panel":"R","pd":"13.3","x":2212.7,"red":45,"blue":41},
{"panel":"R","pd":"13.3","x":2216.5,"red":52,"blue":48},
{"panel":"R","pd":"13.3","x":2220.3,"red":62,"blue":58},
{"panel":"R","pd":"13.3","x":2223.5,"red":73,"blue":69},
{"panel":"R","pd":"13.3","x":2226.2,"red":86,"blue":81},
{"panel":"R","pd":"13.3","x":2228.9,"red":104,"blue":96},
{"panel":"R","pd":"13.3","x":2231.1,"red":120,"blue":114},
{"panel":"R","pd":"13.3","x":2232.7,"red":130,"blue":128},
{"panel":"R","pd":"13.3","x":2233.8,"red":134,"blue":134},
{"panel":"R","pd":"13.3","x":2234.9,"red":135,"blue":136},
{"panel":"R","pd":"13.3","x":2236.5,"red":131,"blue":133},
{"panel":"R","pd":"13.3","x":2238.7,"red":123,"blue":124},
{"panel":"R","pd":"13.3","x":2240.8,"red":114,"blue":114},
{"panel":"R","pd":"13.3","x":2243.5,"red":100,"blue":98},
{"panel":"R","pd":"13.3","x":2246.2,"red":88,"blue":86},
{"panel":"R","pd":"13.3","x":2248.9,"red":78,"blue":76},
{"panel":"R","pd":"13.3","x":2252.2,"red":65,"blue":63},
{"panel":"R","pd":"13.3","x":2255.9,"red":56,"blue":54},
{"panel":"R","pd":"13.3","x":2260.3,"red":50,"blue":48},
{"panel":"R","pd":"13.3","x":2265.1,"red":44,"blue":42},
{"panel":"R","pd":"13.3","x":2270.5,"red":39,"blue":38},
{"panel":"R","pd":"13.3","x":2275.9,"red":35,"blue":34},
{"panel":"R","pd":"13.3","x":2281.3,"red":32,"blue":32},
{"panel":"R","pd":"13.3","x":2288.3,"red":29,"blue":29},
{"panel":"R","pd":"13.3","x":2293.7,"red":27,"blue":27},
{"panel":"R","pd":"13.3","x":2298.1,"red":26,"blue":25}
],
"rules":[
{"panel":"L","x":2133.8,"y1":458,"y2":28},
{"panel":"L","x":2249.3,"y1":448,"y2":129},
{"panel":"L","x":2072.8,"y1":137,"y2":20},
{"panel":"L","x":2236.0,"y1":128,"y2":8},
{"panel":"R","x":2135.5,"y1":457,"y2":9},
{"panel":"R","x":2245.1,"y1":447,"y2":277},
{"panel":"R","x":2234.3,"y1":305,"y2":10}
],
"labels":[
{"panel":"L","x":2150.4,"y":364,"t":"2135"},
{"panel":"L","x":2255.9,"y":353,"t":"2250"},
{"panel":"L","x":2013.0,"y":326,"t":"pD = 0.7"},
{"panel":"L","x":2013.0,"y":199,"t":"pD = 6.6"},
{"panel":"L","x":2150.4,"y":218,"t":"2135"},
{"panel":"L","x":2255.9,"y":228,"t":"2250"},
{"panel":"L","x":2074.8,"y":118,"t":"2083"},
{"panel":"L","x":2182.9,"y":89,"t":"2236"},
{"panel":"L","x":2013.0,"y":43,"t":"pD = 13.3"},
{"panel":"R","x":2146.3,"y":370,"t":"2136"},
{"panel":"R","x":2255.9,"y":370,"t":"2245"},
{"panel":"R","x":2032.3,"y":322,"t":"pD = 0.7"},
{"panel":"R","x":2201.4,"y":258,"t":"2237"},
{"panel":"R","x":2032.3,"y":208,"t":"pD = 6.4"},
{"panel":"R","x":2141.4,"y":235,"t":"2134"},
{"panel":"R","x":2205.7,"y":136,"t":"2237"},
{"panel":"R","x":2032.3,"y":91,"t":"pD = 13.3"},
{"panel":"R","x":2141.4,"y":109,"t":"2134"}
],
"modes":[
{"panel":"L","x":2146.4,"y":399,"t":"νₛCD₃"},
{"panel":"L","x":2251.9,"y":399,"t":"νₐₛCD₃"},
{"panel":"R","x":2140.9,"y":405,"t":"νₛCD₃"},
{"panel":"R","x":2251.1,"y":405,"t":"νₐₛCD₃"}
],
"stars":[
{"panel":"L","x":2082.7,"y":342},
{"panel":"L","x":2082.7,"y":215},
{"panel":"R","x":2093.9,"y":358},
{"panel":"R","x":2093.9,"y":233},
{"panel":"R","x":2091.2,"y":105}
],
"names":[
{"panel":"L","x":2050.9,"y":434,"head":"CD₃","tail":"-CH₂-ND₂"},
{"panel":"R","x":2051.8,"y":434,"head":"CD₃","tail":"-CH₂-COOD"}
],
"arrow":[
{"panel":"L","x1":2127.8,"x2":2082.0,"y":101}
]
},
"hconcat":[
{
"width":504,"height":474,
"layer":[
{"data":{"name":"spec"},"transform":[{"filter":"datum.panel==='L'"},{"fold":["red","blue"],"as":["series","y"]}],
 "mark":{"type":"line","strokeWidth":1},
 "encoding":{
  "x":{"field":"x","type":"quantitative","scale":{"domain":[2005.1,2339.9],"nice":false,"zero":false},
   "axis":{"values":[2050,2150,2250],"format":"d","domain":false,"grid":false,"title":null,"tickSize":6,"tickColor":"#a0a0a0","tickWidth":1,"offset":6,"labelFontSize":27,"labelFont":"Liberation Sans","labelColor":"black","labelPadding":7}},
  "y":{"field":"y","type":"quantitative","scale":{"domain":[0,474],"nice":false,"zero":false},"axis":null},
  "color":{"field":"series","type":"nominal","scale":{"domain":["red","blue"],"range":["#ff0000","#0000ff"]},"legend":null},
  "detail":{"field":"pd"}}},
{"data":{"name":"rules"},"transform":[{"filter":"datum.panel==='L'"}],
 "mark":{"type":"rule","color":"black","strokeWidth":2,"strokeDash":[2,2]},
 "encoding":{"x":{"field":"x","type":"quantitative","scale":{"domain":[2005.1,2339.9],"nice":false,"zero":false}},"y":{"field":"y1","type":"quantitative","scale":{"domain":[0,474],"nice":false,"zero":false}},"y2":{"field":"y2"}}},
{"data":{"name":"arrow"},
 "mark":{"type":"rule","color":"#ff3300","strokeWidth":2,"strokeDash":[3,2]},
 "encoding":{"x":{"field":"x1","type":"quantitative","scale":{"domain":[2005.1,2339.9],"nice":false,"zero":false}},"x2":{"field":"x2"},"y":{"field":"y","type":"quantitative","scale":{"domain":[0,474],"nice":false,"zero":false}}}},
{"data":{"name":"arrow"},
 "mark":{"type":"point","shape":"triangle-left","filled":true,"size":70,"color":"#ff3300","opacity":1},
 "encoding":{"x":{"field":"x2","type":"quantitative","scale":{"domain":[2005.1,2339.9],"nice":false,"zero":false}},"y":{"field":"y","type":"quantitative","scale":{"domain":[0,474],"nice":false,"zero":false}}}},
{"data":{"name":"labels"},"transform":[{"filter":"datum.panel==='L'"}],
 "mark":{"type":"text","align":"left","baseline":"middle","fontSize":21,"font":"Liberation Sans","color":"black"},
 "encoding":{"x":{"field":"x","type":"quantitative","scale":{"domain":[2005.1,2339.9],"nice":false,"zero":false}},"y":{"field":"y","type":"quantitative","scale":{"domain":[0,474],"nice":false,"zero":false}},"text":{"field":"t"}}},
{"data":{"name":"modes"},"transform":[{"filter":"datum.panel==='L'"}],
 "mark":{"type":"text","align":"left","baseline":"middle","fontSize":22,"font":"Liberation Sans","color":"black"},
 "encoding":{"x":{"field":"x","type":"quantitative","scale":{"domain":[2005.1,2339.9],"nice":false,"zero":false}},"y":{"field":"y","type":"quantitative","scale":{"domain":[0,474],"nice":false,"zero":false}},"text":{"field":"t"}}},
{"data":{"name":"stars"},"transform":[{"filter":"datum.panel==='L'"}],
 "mark":{"type":"text","align":"center","baseline":"middle","fontSize":21,"font":"Liberation Sans","color":"black","text":"*"},
 "encoding":{"x":{"field":"x","type":"quantitative","scale":{"domain":[2005.1,2339.9],"nice":false,"zero":false}},"y":{"field":"y","type":"quantitative","scale":{"domain":[0,474],"nice":false,"zero":false}}}},
{"data":{"name":"names"},"transform":[{"filter":"datum.panel==='L'"}],
 "mark":{"type":"text","align":"right","baseline":"middle","fontSize":24,"font":"Liberation Sans","color":"#ff3300"},
 "encoding":{"x":{"field":"x","type":"quantitative","scale":{"domain":[2005.1,2339.9],"nice":false,"zero":false}},"y":{"field":"y","type":"quantitative","scale":{"domain":[0,474],"nice":false,"zero":false}},"text":{"field":"head"}}},
{"data":{"name":"names"},"transform":[{"filter":"datum.panel==='L'"}],
 "mark":{"type":"text","align":"left","baseline":"middle","fontSize":24,"font":"Liberation Sans","color":"black"},
 "encoding":{"x":{"field":"x","type":"quantitative","scale":{"domain":[2005.1,2339.9],"nice":false,"zero":false}},"y":{"field":"y","type":"quantitative","scale":{"domain":[0,474],"nice":false,"zero":false}},"text":{"field":"tail"}}}
]
},
{
"width":522,"height":474,
"layer":[
{"data":{"name":"spec"},"transform":[{"filter":"datum.panel==='R'"},{"fold":["red","blue"],"as":["series","y"]}],
 "mark":{"type":"line","strokeWidth":1},
 "encoding":{
  "x":{"field":"x","type":"quantitative","scale":{"domain":[2020.7,2302.7],"nice":false,"zero":false},
   "axis":{"values":[2050,2150,2250],"format":"d","domain":false,"grid":false,"title":null,"tickSize":6,"tickColor":"#a0a0a0","tickWidth":1,"offset":6,"labelFontSize":27,"labelFont":"Liberation Sans","labelColor":"black","labelPadding":7}},
  "y":{"field":"y","type":"quantitative","scale":{"domain":[0,474],"nice":false,"zero":false},"axis":null},
  "color":{"field":"series","type":"nominal","scale":{"domain":["red","blue"],"range":["#ff0000","#0000ff"]},"legend":null},
  "detail":{"field":"pd"}}},
{"data":{"name":"rules"},"transform":[{"filter":"datum.panel==='R'"}],
 "mark":{"type":"rule","color":"black","strokeWidth":3,"strokeDash":[3,3]},
 "encoding":{"x":{"field":"x","type":"quantitative","scale":{"domain":[2020.7,2302.7],"nice":false,"zero":false}},"y":{"field":"y1","type":"quantitative","scale":{"domain":[0,474],"nice":false,"zero":false}},"y2":{"field":"y2"}}},
{"data":{"name":"labels"},"transform":[{"filter":"datum.panel==='R'"}],
 "mark":{"type":"text","align":"left","baseline":"middle","fontSize":21,"font":"Liberation Sans","color":"black"},
 "encoding":{"x":{"field":"x","type":"quantitative","scale":{"domain":[2020.7,2302.7],"nice":false,"zero":false}},"y":{"field":"y","type":"quantitative","scale":{"domain":[0,474],"nice":false,"zero":false}},"text":{"field":"t"}}},
{"data":{"name":"modes"},"transform":[{"filter":"datum.panel==='R'"}],
 "mark":{"type":"text","align":"left","baseline":"middle","fontSize":22,"font":"Liberation Sans","color":"black"},
 "encoding":{"x":{"field":"x","type":"quantitative","scale":{"domain":[2020.7,2302.7],"nice":false,"zero":false}},"y":{"field":"y","type":"quantitative","scale":{"domain":[0,474],"nice":false,"zero":false}},"text":{"field":"t"}}},
{"data":{"name":"stars"},"transform":[{"filter":"datum.panel==='R'"}],
 "mark":{"type":"text","align":"center","baseline":"middle","fontSize":21,"font":"Liberation Sans","color":"black","text":"*"},
 "encoding":{"x":{"field":"x","type":"quantitative","scale":{"domain":[2020.7,2302.7],"nice":false,"zero":false}},"y":{"field":"y","type":"quantitative","scale":{"domain":[0,474],"nice":false,"zero":false}}}},
{"data":{"name":"names"},"transform":[{"filter":"datum.panel==='R'"}],
 "mark":{"type":"text","align":"right","baseline":"middle","fontSize":24,"font":"Liberation Sans","color":"#ff3300"},
 "encoding":{"x":{"field":"x","type":"quantitative","scale":{"domain":[2020.7,2302.7],"nice":false,"zero":false}},"y":{"field":"y","type":"quantitative","scale":{"domain":[0,474],"nice":false,"zero":false}},"text":{"field":"head"}}},
{"data":{"name":"names"},"transform":[{"filter":"datum.panel==='R'"}],
 "mark":{"type":"text","align":"left","baseline":"middle","fontSize":24,"font":"Liberation Sans","color":"black"},
 "encoding":{"x":{"field":"x","type":"quantitative","scale":{"domain":[2020.7,2302.7],"nice":false,"zero":false}},"y":{"field":"y","type":"quantitative","scale":{"domain":[0,474],"nice":false,"zero":false}},"text":{"field":"tail"}}}
]
}
]
}
